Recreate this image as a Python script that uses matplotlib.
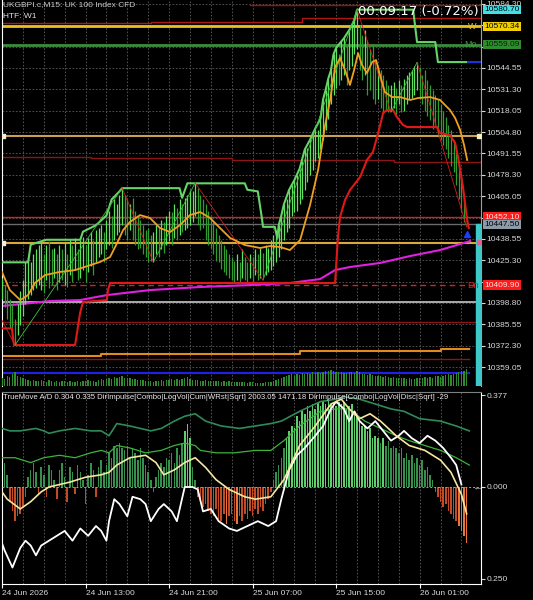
import numpy as np
import matplotlib.pyplot as plt
from matplotlib.transforms import blended_transform_factory

plt.rcParams['font.family'] = ['Liberation Sans', 'DejaVu Sans']

# ---------------- data (M15 bars) ----------------
high = [
    10414, 10410, 10407, 10401, 10398, 10389, 10398, 10406, 10413, 10424,
    10427, 10424, 10429, 10432, 10435, 10438, 10429, 10435, 10437, 10432,
    10433, 10429, 10435, 10432, 10436, 10429, 10438, 10435, 10439, 10432,
    10438, 10440, 10435, 10439, 10443, 10438, 10444, 10445, 10447, 10443,
    10450, 10456, 10453, 10463, 10460, 10466, 10470, 10466, 10463, 10460,
    10464, 10456, 10453, 10450, 10447, 10444, 10445, 10441, 10443, 10447,
    10445, 10450, 10449, 10453, 10456, 10455, 10460, 10458, 10463, 10460,
    10464, 10466, 10469, 10468, 10473, 10470, 10466, 10463, 10460, 10456,
    10453, 10449, 10445, 10441, 10438, 10435, 10432, 10429, 10427, 10425,
    10429, 10424, 10432, 10427, 10424, 10429, 10427, 10432, 10429, 10433,
    10430, 10435, 10433, 10438, 10441, 10444, 10447, 10453, 10460, 10463,
    10469, 10472, 10475, 10478, 10482, 10487, 10494, 10495, 10500, 10505,
    10507, 10506, 10513, 10525, 10531, 10538, 10543, 10553, 10557, 10553,
    10561, 10563, 10559, 10568, 10571, 10574, 10580.7, 10571, 10565, 10568,
    10562, 10556, 10559, 10549, 10546, 10543, 10540, 10537, 10534, 10534,
    10536, 10532, 10537, 10534, 10538, 10540, 10542, 10543, 10546, 10548,
    10545, 10540, 10543, 10537, 10534, 10531, 10528, 10525, 10522, 10518,
    10514, 10509, 10506, 10500, 10494, 10487, 10478, 10466, 10453]
low = [
    10401, 10396, 10389, 10383, 10377, 10373, 10379, 10385, 10391, 10398,
    10401, 10404, 10407, 10408, 10410, 10407, 10405, 10413, 10408, 10410,
    10414, 10407, 10412, 10413, 10410, 10409, 10416, 10412, 10419, 10413,
    10414, 10419, 10412, 10418, 10422, 10416, 10424, 10427, 10429, 10424,
    10432, 10435, 10433, 10438, 10441, 10443, 10447, 10441, 10438, 10444,
    10438, 10435, 10432, 10433, 10429, 10427, 10424, 10425, 10424, 10429,
    10427, 10432, 10430, 10435, 10437, 10435, 10439, 10438, 10441, 10443,
    10444, 10445, 10447, 10449, 10453, 10447, 10444, 10445, 10438, 10435,
    10433, 10429, 10425, 10424, 10420, 10418, 10416, 10414, 10413, 10412,
    10413, 10412, 10414, 10413, 10412, 10414, 10412, 10416, 10413, 10414,
    10415, 10416, 10418, 10419, 10422, 10424, 10427, 10432, 10438, 10443,
    10445, 10453, 10455, 10456, 10460, 10463, 10469, 10474, 10478, 10481,
    10487, 10489, 10494, 10500, 10506, 10513, 10522, 10528, 10532, 10534,
    10537, 10540, 10534, 10543, 10546, 10553, 10556, 10543, 10537, 10540,
    10528, 10531, 10525, 10522, 10525, 10520, 10517, 10518, 10517, 10518,
    10520, 10515, 10522, 10517, 10518, 10522, 10525, 10526, 10528, 10531,
    10525, 10522, 10518, 10515, 10512, 10507, 10509, 10503, 10500, 10497,
    10494, 10489, 10484, 10480, 10472, 10463, 10456, 10449, 10447]
volume = [
    420, 380, 510, 460, 620, 700, 540, 480, 390, 350,
    300, 280, 330, 260, 240, 310, 270, 220, 290, 250,
    230, 260, 210, 280, 240, 200, 260, 230, 190, 250,
    220, 270, 240, 300, 260, 280, 230, 320, 350, 300,
    380, 420, 360, 450, 400, 470, 520, 430, 390, 410,
    360, 340, 300, 330, 290, 270, 250, 240, 220, 260,
    280, 300, 270, 320, 290, 340, 310, 360, 330, 380,
    420, 450, 380, 320, 290, 310, 280, 260, 300, 270,
    250, 280, 240, 260, 230, 250, 220, 240, 210, 230,
    200, 220, 190, 210, 180, 200, 190, 170, 180, 160,
    170, 190, 200, 230, 260, 300, 350, 420, 480, 520,
    560, 600, 540, 620, 580, 650, 600, 680, 640, 700,
    660, 720, 680, 750, 800, 760, 820, 780, 740, 700,
    720, 680, 650, 700, 740, 680, 760, 700, 640, 600,
    580, 620, 560, 540, 520, 500, 480, 520, 460, 440,
    460, 420, 440, 400, 420, 380, 400, 360, 380, 420,
    440, 400, 460, 420, 480, 440, 500, 520, 480, 540,
    560, 600, 580, 640, 680, 720, 760, 800, 900]

# channel lines (bar index, price)
upper_x = [0, 10, 11, 17, 30, 31, 36, 40, 42, 45, 46, 68, 69, 71, 93, 94, 98, 99.5, 100,
           104.5, 105.5, 106, 107, 108, 110, 112, 114, 116, 118, 120, 122, 123, 124, 125,
           126, 127, 128, 130, 131, 133, 134, 135, 136, 157.5, 159, 166, 167, 178.5]
upper_y = [10424, 10424, 10435, 10438, 10438, 10443, 10447, 10453, 10463, 10468, 10470,
           10470, 10464, 10473, 10473, 10469, 10468, 10452, 10446, 10446, 10439, 10447,
           10453, 10460, 10469, 10475, 10482, 10494, 10500, 10507, 10513, 10525, 10531,
           10538, 10543, 10553, 10557, 10561, 10563, 10568, 10571, 10574, 10580.7,
           10580.7, 10560.6, 10560.6, 10548.2, 10548.2]
lower_x = [0, 3.8, 4.6, 28, 29.9, 31, 40.2, 40.6, 41.4, 127.6, 128.7, 129.5, 131.4, 133.3,
           137.2, 139.8, 142.1, 144.1, 146, 147.5, 149.8, 151.3, 153.6, 155.2, 166.7,
           167.8, 171.6, 173.6, 174.7, 176.6, 178.2, 178.8]
lower_y = [10383, 10383, 10372.7, 10372.7, 10392.5, 10399.4, 10400.6, 10406.8, 10411.2,
           10411.2, 10439.7, 10452.1, 10462.6, 10468.8, 10476.9, 10487.5, 10492.4,
           10504.2, 10516.6, 10518.5, 10518.5, 10514.1, 10509.2, 10507.9, 10507.9,
           10504.2, 10502.9, 10498.0, 10489.3, 10470.7, 10450.2, 10445.3]
ma_x = [0, 3, 7, 10, 12.6, 16.5, 22, 28, 37.5, 41.4, 44.1, 46.4, 49, 52.9, 56.7, 60.5,
        64.4, 68.2, 72, 75.9, 79.7, 83.5, 87.4, 93.1, 98.9, 102.7, 106.5, 110.3, 114.2,
        118, 121.1, 123.8, 125.7, 127.6, 129.5, 131.4, 133.3, 134.9, 136.4, 137.9, 139.8,
        141.8, 143.3, 144.8, 146.7, 149.4, 152.5, 156.3, 159.4, 164, 167.8, 171.6, 173.6,
        175.5, 177, 178.2]
ma_y = [10418.0, 10406.8, 10400.6, 10403.7, 10411.2, 10416.1, 10418.0, 10419.2, 10424.2,
        10427.3, 10436.0, 10444.0, 10449.0, 10453.3, 10451.5, 10445.3, 10442.8, 10447.1,
        10453.3, 10455.2, 10451.5, 10445.3, 10439.1, 10434.7, 10432.9, 10434.1, 10433.5,
        10431.6, 10437.8, 10459.5, 10481.3, 10509.2, 10524.7, 10545.1, 10550.7, 10543.3,
        10534.0, 10543.3, 10553.8, 10546.4, 10541.4, 10548.2, 10549.5, 10540.2, 10529.6,
        10526.5, 10526.5, 10524.7, 10525.9, 10526.5, 10524.7, 10518.5, 10513.5, 10506.1,
        10496.8, 10487.5]
zz_x = [0, 5, 46, 58, 74, 100, 136, 149, 159, 178]
zz_y = [10388, 10372.7, 10470.1, 10424.2, 10473.2, 10413, 10580.7, 10517.2, 10548, 10446]
pink_x = [0, 18.4, 29.9, 40.2, 56.7, 75.9, 95, 110.3, 121.8, 127.6, 133.3, 144.8, 156.3,
          167.8, 179.3]
pink_y = [10396.9, 10400.0, 10400.6, 10403.7, 10406.8, 10408.7, 10409.9, 10411.2, 10413.6,
          10419.2, 10421.1, 10423.6, 10427.9, 10431.6, 10437.2]

# lower window: TrueMove A/D
hist = [
    0.12, 0.10, 0.05, -0.06, -0.10, -0.14, -0.12, -0.11, -0.08, -0.04,
    0.04, 0.07, 0.10, 0.06, -0.03, 0.08, 0.05, -0.04, 0.09, 0.07,
    0.03, -0.05, 0.07, 0.10, 0.04, -0.06, 0.08, 0.06, -0.03, 0.09,
    0.06, 0.03, -0.07, 0.05, 0.10, 0.07, -0.04, 0.08, 0.11, 0.06,
    0.09, 0.14, 0.12, 0.17, 0.16, 0.18, 0.16, 0.15, 0.17, 0.12,
    0.16, 0.14, 0.11, 0.16, 0.12, 0.09, 0.06, 0.03, -0.02, 0.04,
    0.07, 0.10, 0.08, 0.12, 0.11, 0.14, 0.10, 0.16, 0.13, 0.18,
    0.23, 0.26, 0.20, 0.08, 0.03, -0.04, -0.06, -0.08, -0.07, -0.10,
    -0.11, -0.12, -0.09, -0.13, -0.14, -0.11, -0.15, -0.12, -0.11, -0.14,
    -0.15, -0.12, -0.14, -0.11, -0.13, -0.10, -0.12, -0.09, -0.11, -0.08,
    -0.10, -0.07, -0.05, -0.02, 0.03, 0.06, 0.09, 0.12, 0.16, 0.20,
    0.23, 0.25, 0.24, 0.29, 0.27, 0.31, 0.30, 0.33, 0.31, 0.34,
    0.32, 0.35, 0.33, 0.35, 0.34, 0.36, 0.34, 0.35, 0.33, 0.35,
    0.34, 0.35, 0.32, 0.33, 0.34, 0.31, 0.29, 0.27, 0.25, 0.25,
    0.23, 0.24, 0.20, 0.21, 0.20, 0.18, 0.20, 0.17, 0.19, 0.16,
    0.17, 0.16, 0.14, 0.16, 0.12, 0.14, 0.11, 0.13, 0.10, 0.12,
    0.09, 0.11, 0.07, 0.08, 0.05, 0.03, -0.02, -0.04, -0.06, -0.08,
    -0.07, -0.10, -0.11, -0.13, -0.14, -0.16, -0.18, -0.20, -0.23]
band_hi_x = [0, 3, 7, 13, 16, 18, 22, 28, 34, 38, 41, 44, 49, 53, 57, 61, 66, 70, 74, 78,
             84, 91, 97, 103, 107, 114, 122, 128, 131, 137, 143, 149, 154, 160, 168, 174, 179]
band_hi = [0.24, 0.23, 0.23, 0.24, 0.23, 0.22, 0.23, 0.24, 0.23, 0.23, 0.21, 0.26, 0.25,
           0.24, 0.23, 0.24, 0.27, 0.29, 0.30, 0.27, 0.25, 0.24, 0.25, 0.26, 0.27, 0.31,
           0.35, 0.36, 0.37, 0.36, 0.34, 0.32, 0.31, 0.28, 0.27, 0.25, 0.23]
band_mid_x = [0, 5, 11, 16, 22, 28, 34, 38, 41, 44, 49, 55, 61, 66, 70, 74, 76, 82, 89, 97,
              103, 108, 114, 122, 128, 133, 139, 145, 151, 156, 162, 168, 174, 179]
band_mid = [0.12, 0.12, 0.10, 0.12, 0.13, 0.12, 0.14, 0.15, 0.14, 0.17, 0.16, 0.14, 0.15,
            0.17, 0.18, 0.17, 0.15, 0.14, 0.14, 0.15, 0.15, 0.19, 0.25, 0.31, 0.32, 0.32,
            0.27, 0.24, 0.21, 0.19, 0.17, 0.15, 0.12, 0.09]
signal_x = [0, 2, 7, 11, 15, 18, 22, 26, 32, 38, 41, 44, 49, 55, 59, 62, 66, 70, 74, 78,
            82, 87, 93, 97, 103, 108, 114, 120, 126, 130, 133, 137, 141, 145, 151, 156,
            162, 168, 172, 176, 178]
signal = [-0.02, -0.05, -0.09, -0.06, -0.02, 0.0, 0.01, 0.02, 0.04, 0.05, 0.06, 0.09,
          0.12, 0.13, 0.10, 0.05, 0.07, 0.10, 0.12, 0.08, 0.03, -0.01, -0.04, -0.05,
          -0.04, 0.03, 0.17, 0.25, 0.34, 0.36, 0.32, 0.28, 0.30, 0.27, 0.21, 0.17, 0.15,
          0.11, 0.06, -0.03, -0.11]
ad_x = [0, 1, 4, 7, 9, 11, 13, 15, 18, 21, 24, 27, 30, 33, 36, 38, 40, 41, 43, 45, 48, 50,
        53, 55, 57, 60, 62, 65, 67, 70, 73, 75, 77, 80, 83, 87, 90, 94, 98, 102, 105, 107,
        110, 113, 116, 120, 123, 126, 128, 131, 133, 135, 137, 140, 143, 146, 149, 152,
        154, 157, 160, 163, 166, 169, 172, 174, 176]
ad_line = [-0.23, -0.26, -0.33, -0.25, -0.22, -0.24, -0.28, -0.24, -0.22, -0.20, -0.18,
           -0.22, -0.17, -0.20, -0.16, -0.18, -0.22, -0.14, -0.05, -0.07, -0.12, -0.04,
           -0.05, -0.07, -0.14, -0.09, -0.07, -0.10, -0.14, 0.0, 0.0, -0.01, -0.10, -0.09,
           -0.14, -0.17, -0.18, -0.16, -0.14, -0.16, -0.14, -0.05, 0.07, 0.13, 0.16, 0.21,
           0.25, 0.32, 0.35, 0.32, 0.27, 0.31, 0.27, 0.24, 0.27, 0.23, 0.19, 0.21, 0.23,
           0.20, 0.18, 0.21, 0.19, 0.16, 0.12, 0.09, 0.01]

time_ticks = [0, 32, 64, 96, 128, 160]
time_labels = ['24 Jun 2026', '24 Jun 13:00', '24 Jun 21:00', '25 Jun 07:00',
               '25 Jun 15:00', '26 Jun 01:00']
price_ticks = [10359.05, 10372.30, 10385.55, 10398.80, 10412.05, 10425.30, 10438.55,
               10451.80, 10465.05, 10478.30, 10491.55, 10504.80, 10518.05, 10531.30,
               10544.55, 10557.80, 10571.05, 10584.30]
# these scale labels sit under the coloured price boxes on the original
covered = [10412.05, 10451.80, 10557.80, 10571.05]

bars = np.arange(len(high))
high = np.array(high)
low = np.array(low)

fig = plt.figure(figsize=(5.33, 6.0), dpi=100, facecolor='black')
GRID = dict(color='#5c5c5c', linestyle=(0, (2, 2)), linewidth=0.6)

# ---------------- main price window ----------------
ax = fig.add_axes([2 / 533, 1 - 386 / 600, 479 / 533, 386 / 600])
ax.set_facecolor('black')
ax.set_xlim(0, 183.5)
ax.set_ylim(10347.3, 10586.7)
ax.set_xticks(range(0, 184, 8))
ax.tick_params(axis='x', length=0, labelbottom=False)
ax.yaxis.tick_right()
ax.set_yticks(price_ticks)
ax.set_yticklabels(['' if p in covered else '%.2f' % p for p in price_ticks])
ax.tick_params(axis='y', colors='#d8d8d8', labelsize=6, length=3, pad=1)
ax.grid(True, **GRID)
ax.set_axisbelow(True)
for s in ['top', 'bottom']:
    ax.spines[s].set_visible(False)
ax.spines['left'].set_color('white')
ax.spines['right'].set_color('#a0a0a0')

trans = blended_transform_factory(ax.transAxes, ax.transData)

# horizontal levels
ax.plot([95, 183.5], [10583.6, 10583.6], color='#a01010', lw=1)
ax.plot([0, 57, 57, 115, 115, 183.5], [10572.4, 10572.4, 10573.3, 10573.3, 10575.5, 10575.5],
        color='#b01515', lw=1)
ax.axhline(10570.34, color='#e8c020', lw=2)
ax.axhline(10559.09, color='#3c8c3c', lw=2)
ax.axhline(10502.4, color='#c8a050', lw=1.5)
ax.plot([0, 34, 34, 88, 88, 150, 150, 183.5],
        [10489.3, 10489.3, 10488.7, 10488.7, 10487.5, 10487.5, 10486.2, 10486.2],
        color='#8b1515', lw=1)
ax.axhline(10452.1, color='#d81e1e', lw=1)
ax.axhline(10447.5, color='#6a6a6a', lw=1)
ax.axhline(10436.0, color='#d8a838', lw=1.5)
ax.axhline(10409.9, color='#e02020', lw=1, ls=(0, (4, 3)))
ax.axhline(10399.4, color='#c8c8c8', lw=1.2)
ax.axhline(10386.9, color='#8b1515', lw=1)
ax.plot([0, 38, 38, 114, 114, 168, 168, 179],
        [10365.9, 10365.9, 10367.1, 10367.1, 10369.0, 10369.0, 10370.2, 10370.2],
        color='#e08a20', lw=1.5)
ax.plot([0, 179], [10364.2, 10364.2], color='#8b1515', lw=1)
ax.plot([0, 179], [10355.3, 10355.3], color='#2020e8', lw=1.5)
ax.plot(pink_x, pink_y, color='#e020e0', lw=1.5)

# price bars
mid = (high + low) / 2
cols = ['#5ee35e' if i == 0 or mid[i] >= mid[i - 1] else '#2f9e2f' for i in bars]
ax.vlines(bars, low, high, colors=cols, lw=0.9, zorder=3)

# channel, zigzag and moving average
ax.plot(upper_x, upper_y, color='#66d466', lw=1.5, zorder=4)
ax.plot([178.5, 183], [10548.2, 10548.2], color='#2030e0', lw=1.5, zorder=4)
ax.plot(lower_x, lower_y, color='#e01818', lw=1.5, zorder=4)
for k in range(len(zz_x) - 1):
    c = '#3cc03c' if zz_y[k + 1] > zz_y[k] else '#d02020'
    ax.plot(zz_x[k:k + 2], zz_y[k:k + 2], color=c, lw=0.6, zorder=4)
ax.plot(ma_x, ma_y, color='#f0a020', lw=1.3, zorder=5)

# markers
ax.plot([0.5, 0.5], [10502.4, 10436.0], 's', color='#f4f0d8', ms=3, zorder=6)
ax.plot(182.8, 10502.4, 's', color='#f4f0c0', ms=3, zorder=6)
ax.plot(182.6, 10436.6, 's', color='#e06090', ms=3, zorder=6)
ax.plot(178, 10441.5, '^', color='#1e3cff', ms=4.5, zorder=6)
ax.axvspan(181.4, 183.5, ymin=0, ymax=(10447.5 - 10347.3) / (10586.7 - 10347.3),
           color='#3ec8c8', zorder=2)

# volume strip
vax = ax.inset_axes([0, 0, 1, 0.045])
vax.set_xlim(0, 183.5)
vax.set_ylim(0, 900)
vax.bar(bars, volume, width=0.5, color='#2e8b2e')
vax.axis('off')

# texts
ax.text(0.002, 0.987, 'UKGBPI.c,M15: UK 100 Index CFD', transform=ax.transAxes,
        color='#c8c8c8', fontsize=6, va='center')
ax.text(0.002, 0.958, 'HTF: W1', transform=ax.transAxes, color='#e0e0e0',
        fontsize=6, va='center')
ax.text(0.995, 0.969, '00:09:17 (-0.72%)', transform=ax.transAxes, color='white',
        fontsize=9.5, family='DejaVu Sans', ha='right', va='center', zorder=7)
ax.text(0.973, 10570.34, 'W', transform=trans, color='#e8c020', fontsize=6.5,
        va='center', zorder=7)
ax.text(0.966, 10559.09, 'Mo', transform=trans, color='#3c9c3c', fontsize=6.5,
        va='center', zorder=7)
ax.text(0.971, 10409.9, 'Dn', transform=trans, color='#e02020', fontsize=6.5,
        va='center', zorder=7)

boxes = [(10580.70, '#40e0e8', 'black'), (10570.34, '#f0d000', 'black'),
         (10559.09, '#2e8b2e', '#102010'), (10452.10, '#ff1a1a', '#ffe0e0'),
         (10447.50, '#8c9aa8', 'black'), (10409.90, '#ff1a1a', '#ffe0e0')]
for price, fc, tc in boxes:
    ax.text(1.007, price, '%.2f' % price, transform=trans, color=tc, fontsize=6,
            va='center', ha='left', clip_on=False, zorder=8,
            bbox=dict(boxstyle='square,pad=0.15', fc=fc, ec='none'))

# ---------------- lower window ----------------
ax2 = fig.add_axes([2 / 533, 1 - 584 / 600, 479 / 533, 192 / 600])
ax2.set_facecolor('black')
ax2.set_xlim(0, 183.5)
ax2.set_ylim(-0.3975, 0.3893)
ax2.set_xticks(range(0, 184, 8), minor=True)
ax2.set_xticks(time_ticks)
ax2.set_xticklabels(time_labels, ha='left')
ax2.tick_params(axis='x', which='major', colors='white', labelcolor='#d8d8d8',
                labelsize=6, length=3, pad=1)
ax2.tick_params(axis='x', which='minor', length=0)
ax2.grid(True, axis='x', which='both', **GRID)
ax2.set_axisbelow(True)
ax2.yaxis.tick_right()
ax2.set_yticks([0.377, 0.0, -0.377])
ax2.set_yticklabels(['0.377', '0.000', '0.250'])
ax2.tick_params(axis='y', colors='#d8d8d8', labelsize=6, length=3, pad=1)
for s in ['left', 'bottom', 'right']:
    ax2.spines[s].set_color('white')
ax2.spines['top'].set_color('#808080')

hcols = []
for v in hist:
    if v >= 0.2:
        hcols.append('#5ccf6a')
    elif v >= 0:
        hcols.append('#34904a')
    elif v <= -0.15:
        hcols.append('#e8743a')
    else:
        hcols.append('#c24a24')
ax2.bar(bars, hist, width=0.6, color=hcols, zorder=2)
ax2.axhline(0, color='#a0a0a0', lw=0.7, ls=(0, (2, 2)), zorder=3)
ax2.plot(band_hi_x, band_hi, color='#2e8b57', lw=1.2, zorder=4)
ax2.plot(band_mid_x, band_mid, color='#3cb43c', lw=0.9, zorder=4)
ax2.plot(ad_x, ad_line, color='white', lw=1.3, zorder=4)
ax2.plot(signal_x, signal, color='#f5e6a0', lw=1.2, zorder=5)

ax2.text(0.003, 0.969,
         'TrueMove A/D 0.304 0.335 DirImpulse[Combo|LogVol|Cum|WRst|Sqrt] 2003.05 1471.18 '
         'DirImpulse[Combo|LogVol|Disc|Sqrt] -29',
         transform=ax2.transAxes, color='#e8e8e8', fontsize=5.6, va='center', zorder=6)
trans2 = blended_transform_factory(ax2.transAxes, ax2.transData)
ax2.text(0.982, 0.0, '\u2190', transform=trans2, color='#b0b0b0', fontsize=7.5,
         fontweight='bold', va='center', ha='left', clip_on=False, zorder=6)

fig.savefig('out.png', dpi=100, facecolor='black')
plt.close(fig)
